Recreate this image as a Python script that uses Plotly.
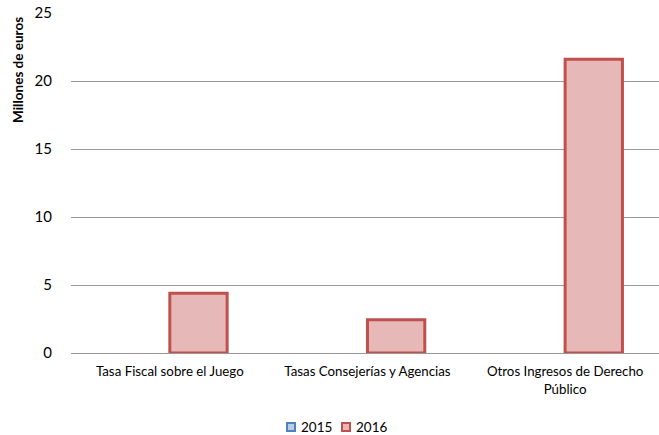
import plotly.graph_objects as go

categories = ["Tasa Fiscal sobre el Juego", "Tasas Consejerías y Agencias", "Otros Ingresos de Derecho<br>Público"]
series_names = ["2015", "2016"]
values_2015 = [0, 0, 0]
values_2016 = [4.4, 2.45, 21.6]
y_ticks = [0, 5, 10, 15, 20, 25]

FONT = "Lato"
FILLS = ["#B9CDE5", "#E6B9B8"]
LINES = ["#4F81BD", "#C0504D"]

fig = go.Figure()
fig.add_trace(go.Bar(
    x=categories, y=values_2015, name=series_names[0], showlegend=False,
    marker=dict(color=FILLS[0], line=dict(color=LINES[0], width=0)),
))
fig.add_trace(go.Bar(
    x=categories, y=values_2016, name=series_names[1], showlegend=False,
    marker=dict(color=FILLS[1], line=dict(color=LINES[1], width=3)),
))

# plot area geometry (pixels) used to place the hand-drawn legend under the chart
L, R, T, B, W, H = 71, 0, 13, 82, 659, 435
PW, PH = W - L - R, H - T - B
def px(x):
    return (x - L) / PW
def py(y):
    return (H - B - y) / PH

shapes = []
annotations = [dict(text="<b>Millones de euros</b>", xref="paper", yref="paper",
                    x=px(18), y=py(70), xanchor="center", yanchor="middle", textangle=-90,
                    showarrow=False, font=dict(size=13.5, family=FONT, color="black"))]
legend_x = [287, 342]
for i, name in enumerate(series_names):
    x0 = legend_x[i]
    shapes.append(dict(type="rect", xref="paper", yref="paper",
                       x0=px(x0), x1=px(x0 + 8), y0=py(431), y1=py(423),
                       fillcolor=FILLS[i], line=dict(color=LINES[i], width=2)))
    annotations.append(dict(text=name, xref="paper", yref="paper", x=px(x0 + 12), y=py(427),
                            xanchor="left", yanchor="middle", showarrow=False,
                            font=dict(size=13.5, family=FONT, color="black")))

fig.update_layout(
    width=W, height=H,
    margin=dict(l=L, r=R, t=T, b=B, autoexpand=False),
    paper_bgcolor="white", plot_bgcolor="white",
    barmode="group", bargap=0.42, bargroupgap=0,
    font=dict(family=FONT, color="black"),
    showlegend=False,
    xaxis=dict(type="category", range=[-0.5, 2.475], showgrid=False, showline=False,
               ticks="", tickfont=dict(size=13.3, family=FONT), ticklabelstandoff=9,
               automargin=False),
    yaxis=dict(range=[0, 25], tickvals=y_ticks, showgrid=True, gridcolor="#999999", gridwidth=1,
               zeroline=True, zerolinecolor="#999999", zerolinewidth=1, showline=False,
               ticks="", tickfont=dict(size=15, family=FONT), ticklabelstandoff=18,
               automargin=False),
    shapes=shapes,
    annotations=annotations,
)

fig.write_html("out.html", config={"displayModeBar": False},
               post_script="document.body.style.margin='0';document.body.style.overflow='hidden';")
